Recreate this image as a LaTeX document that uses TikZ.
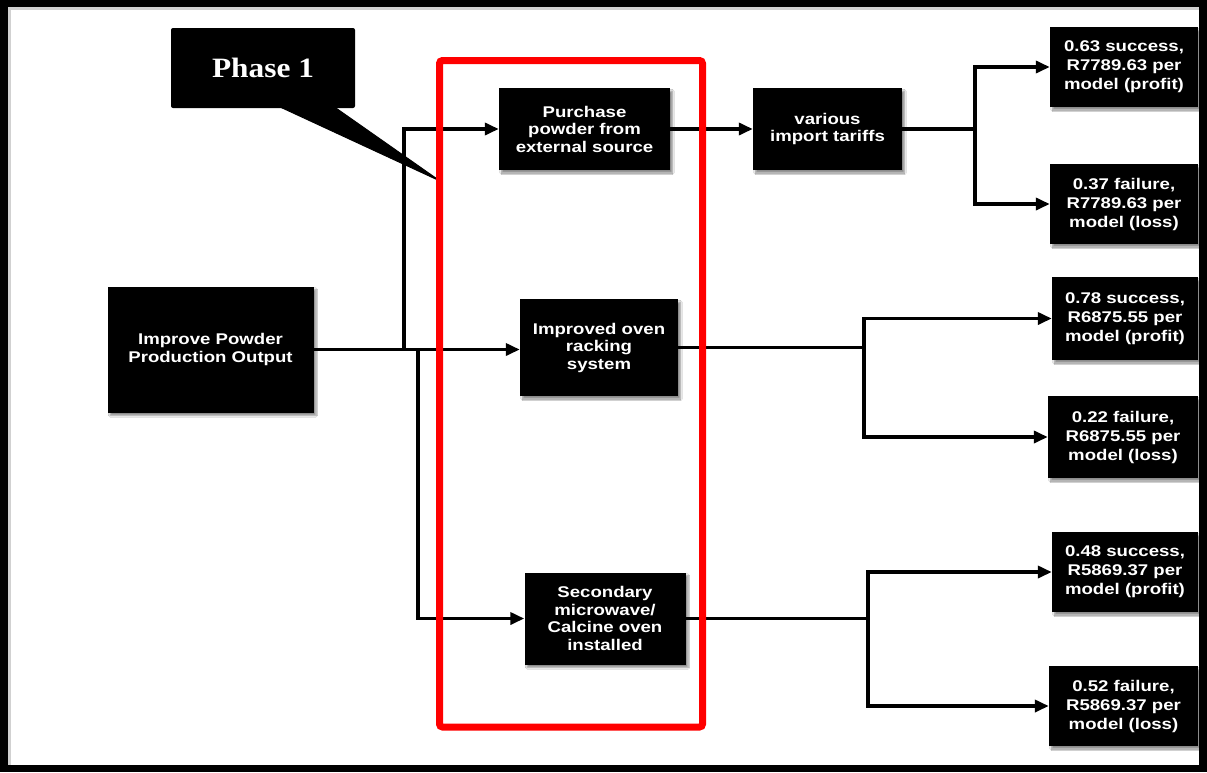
\documentclass[tikz,border=0pt]{standalone}
\usepackage{fontspec}
\newfontfamily\boxfont[FakeStretch=1.2]{Liberation Sans}
\newfontfamily\calloutfont[FakeStretch=1.12]{Liberation Serif}
\usetikzlibrary{arrows.meta,shadows.blur}

\tikzset{
  blk/.style={fill=black, text=white, inner sep=2pt, align=center,
    font=\boxfont\bfseries\fontsize{15.5}{17.5}\selectfont,
    blur shadow={shadow xshift=2.5pt, shadow yshift=-3pt, shadow blur steps=6, shadow opacity=45}},
  outcome/.style={blk, font=\boxfont\bfseries\fontsize{15.5}{19}\selectfont},
  conn/.style={line width=3.6pt, draw=black},
  arr/.style={conn, -{Triangle[length=14pt,width=12pt]}},
}

\begin{document}
\begin{tikzpicture}[x=1pt,y=-1pt]
\useasboundingbox (0,0) rectangle (1207,772);

% frame
\fill[black] (0,0) rectangle (1207,772);
\fill[white] (8,7) rectangle (1199,765);
\fill[black!18] (8,7) rectangle (1199,10);
\fill[black!18] (8,7) rectangle (11,765);

% decision boxes
\node[blk, minimum width=206pt, minimum height=126pt] (improve) at (210.5,349.5)
  {Improve Powder\\Production Output};
\node[blk, minimum width=171pt, minimum height=82pt] (purchase) at (584.5,129)
  {Purchase\\powder from\\external source};
\node[blk, minimum width=149pt, minimum height=82pt] (tariffs) at (827.5,129)
  {various\\import tariffs};
\node[blk, minimum width=158pt, minimum height=97pt] (racking) at (599,347.5)
  {Improved oven\\racking\\system};
\node[blk, minimum width=161pt, minimum height=92pt] (secondary) at (605,618.5)
  {Secondary\\microwave/\\Calcine oven\\installed};

% outcome boxes
\node[outcome, minimum width=148pt, minimum height=80pt] (r1) at (1124,67)
  {0.63 success,\\R7789.63 per\\model (profit)};
\node[outcome, minimum width=148pt, minimum height=80pt] (r2) at (1124,204)
  {0.37 failure,\\R7789.63 per\\model (loss)};
\node[outcome, minimum width=146pt, minimum height=83pt] (r3) at (1125,318.5)
  {0.78 success,\\R6875.55 per\\model (profit)};
\node[outcome, minimum width=150pt, minimum height=82pt] (r4) at (1123,437)
  {0.22 failure,\\R6875.55 per\\model (loss)};
\node[outcome, minimum width=146pt, minimum height=80pt] (r5) at (1125,572)
  {0.48 success,\\R5869.37 per\\model (profit)};
\node[outcome, minimum width=149pt, minimum height=80pt] (r6) at (1123.5,706)
  {0.52 failure,\\R5869.37 per\\model (loss)};

% branch points
\coordinate (up) at (404,349.5);
\coordinate (dn) at (418,349.5);
\coordinate (s1) at (975,129);
\coordinate (s2) at (864,347.5);
\coordinate (s3) at (868,618.5);

% connectors
\draw[arr] (improve.east) -- (improve.east -| racking.west);
\draw[arr] (up) |- (purchase.west);
\draw[arr] (dn) |- (secondary.west);
\draw[arr] (purchase.east) -- (tariffs.west);
\draw[conn] (tariffs.east) -- (s1);
\draw[arr] (s1) |- (r1.west);
\draw[arr] (s1) |- (r2.west);
\draw[conn] (racking.east) -- (s2);
\draw[arr] (s2) |- (r3.west);
\draw[arr] (s2) |- (r4.west);
\draw[conn] (secondary.east) -- (s3);
\draw[arr] (s3) |- (r5.west);
\draw[arr] (s3) |- (r6.west);

% callout
\coordinate (tip) at (440,181);
\node[fill=black, text=white, rounded corners=2pt, minimum width=184pt, minimum height=80pt,
  font=\calloutfont\bfseries\fontsize{28}{32}\selectfont] (phase) at (263,68) {Phase 1};
\filldraw[black, line join=round, line width=1pt] (278,106) -- (tip) -- (333,106) -- cycle;

% phase boundary
\draw[red, line width=7pt, rounded corners=3pt] (439.5,60.5) rectangle (702.5,727);

\end{tikzpicture}
\end{document}
